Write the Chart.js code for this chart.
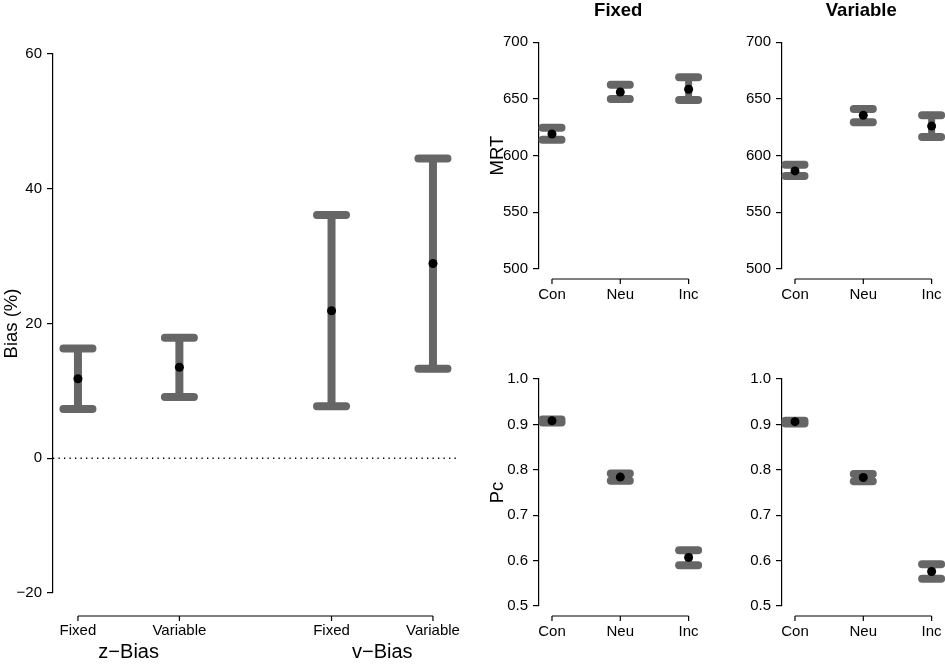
<!DOCTYPE html>
<html>
<head>
<meta charset="utf-8">
<title>Bias, MRT and Pc</title>
<script src="https://cdn.jsdelivr.net/npm/chart.js@4.4.1/dist/chart.umd.min.js"></script>
<style>
  html, body { margin: 0; padding: 0; background: #ffffff; }
  body { width: 945px; height: 664px; position: relative; overflow: hidden; }
  canvas { position: absolute; }
</style>
</head>
<body>
<canvas id="biasChart" width="470" height="664" style="left:0;top:0"></canvas>
<canvas id="mrtFixedChart" width="222" height="330" style="left:480px;top:0"></canvas>
<canvas id="mrtVariableChart" width="222" height="330" style="left:723px;top:0"></canvas>
<canvas id="pcFixedChart" width="222" height="334" style="left:480px;top:330px"></canvas>
<canvas id="pcVariableChart" width="222" height="334" style="left:723px;top:330px"></canvas>
<script>
// Colours and font
const BAR_COLOR = '#666666';
const INK = '#000000';
const FONT = "'Liberation Sans', Arial, Helvetica, sans-serif";

// Left panel: bias estimates (%)
const biasPositions = [1, 2, 3.5, 4.5];
const biasLabels = ['Fixed', 'Variable', 'Fixed', 'Variable'];
const biasGroups = ['z\u2212Bias', 'v\u2212Bias'];
const biasMean = [11.8, 13.5, 21.9, 28.9];
const biasLow = [7.3, 9.1, 7.7, 13.3];
const biasHigh = [16.3, 17.9, 36.1, 44.5];
const biasTicks = [-20, 0, 20, 40, 60];

// Right panels: conditions
const conditions = ['Con', 'Neu', 'Inc'];
const condPositions = [1, 2, 3];
const mrtTicks = [500, 550, 600, 650, 700];
const pcTicks = [0.5, 0.6, 0.7, 0.8, 0.9, 1.0];

// Mean RT
const mrtFixedMean = [619, 656, 658.5];
const mrtFixedLow = [614, 650, 649];
const mrtFixedHigh = [624.5, 662.5, 669];
const mrtVariableMean = [586.5, 635.5, 626];
const mrtVariableLow = [582, 629.5, 616.5];
const mrtVariableHigh = [592, 641, 635.5];

// Proportion correct
const pcFixedMean = [0.908, 0.784, 0.607];
const pcFixedLow = [0.904, 0.776, 0.590];
const pcFixedHigh = [0.911, 0.792, 0.623];
const pcVariableMean = [0.906, 0.783, 0.576];
const pcVariableLow = [0.902, 0.775, 0.560];
const pcVariableHigh = [0.908, 0.791, 0.592];

Chart.defaults.font.family = FONT;
Chart.defaults.color = INK;

// Draw stems and caps under the mean points
const errorBarPlugin = {
    id: 'errorBars',
    beforeDatasetsDraw(chart, args, opts) {
        const { ctx, scales: { x, y } } = chart;
        ctx.save();
        ctx.strokeStyle = opts.color;
        opts.positions.forEach((pos, i) => {
            const px = x.getPixelForValue(pos);
            const yLo = y.getPixelForValue(opts.low[i]);
            const yHi = y.getPixelForValue(opts.high[i]);
            ctx.lineCap = 'butt';
            ctx.lineWidth = opts.stemWidth;
            ctx.beginPath();
            ctx.moveTo(px, yLo);
            ctx.lineTo(px, yHi);
            ctx.stroke();
            ctx.lineCap = 'round';
            ctx.lineWidth = opts.capThickness;
            const half = (opts.capWidth - opts.capThickness) / 2;
            [yLo, yHi].forEach(py => {
                ctx.beginPath();
                ctx.moveTo(px - half, py);
                ctx.lineTo(px + half, py);
                ctx.stroke();
            });
        });
        ctx.restore();
    }
};

// R-style x axis: line only between first and last tick, set off below the plot
const rAxisPlugin = {
    id: 'rAxis',
    afterDraw(chart, args, opts) {
        const { ctx, chartArea, scales: { x } } = chart;
        const yLine = chartArea.bottom + opts.gap;
        const pix = opts.positions.map(p => x.getPixelForValue(p));
        ctx.save();
        ctx.strokeStyle = INK;
        ctx.lineWidth = 1.2;
        ctx.beginPath();
        ctx.moveTo(pix[0], yLine);
        ctx.lineTo(pix[pix.length - 1], yLine);
        pix.forEach(px => {
            ctx.moveTo(px, yLine);
            ctx.lineTo(px, yLine + opts.tick);
        });
        ctx.stroke();
        if (opts.groups && opts.groups.length) {
            ctx.fillStyle = INK;
            ctx.font = '20px ' + FONT;
            ctx.textAlign = 'center';
            ctx.textBaseline = 'middle';
            opts.groups.forEach((g, i) => {
                const cx = (pix[i * 2] + pix[i * 2 + 1]) / 2;
                ctx.fillText(g, cx, chartArea.bottom + opts.groupOffset);
            });
        }
        ctx.restore();
    }
};

function buildPanel(canvasId, p) {
    const datasets = [];
    if (p.zeroLine) {
        datasets.push({
            type: 'line',
            data: [{ x: p.xMin, y: 0 }, { x: p.xMax, y: 0 }],
            borderColor: INK,
            borderWidth: 1.3,
            borderDash: [1.3, 4.2],
            pointRadius: 0,
            order: 2
        });
    }
    datasets.push({
        type: 'scatter',
        data: p.positions.map((pos, i) => ({ x: pos, y: p.mean[i] })),
        pointRadius: p.pointRadius,
        backgroundColor: INK,
        borderWidth: 0,
        order: 1
    });

    return new Chart(document.getElementById(canvasId), {
        type: 'scatter',
        data: { datasets },
        options: {
            responsive: false,
            animation: false,
            events: [],
            layout: { padding: p.padding },
            plugins: {
                legend: { display: false },
                tooltip: { enabled: false },
                title: {
                    display: !!p.title,
                    text: p.title || '',
                    fullSize: false,
                    color: INK,
                    font: { size: 18.5, weight: 'bold' },
                    padding: { top: 0, bottom: p.titleGap || 0 }
                },
                errorBars: {
                    positions: p.positions,
                    low: p.low,
                    high: p.high,
                    color: BAR_COLOR,
                    stemWidth: p.stemWidth,
                    capWidth: p.capWidth,
                    capThickness: p.capThickness
                },
                rAxis: {
                    positions: p.positions,
                    gap: p.axisGap,
                    tick: 5,
                    groups: p.groups || [],
                    groupOffset: p.groupOffset || 0
                }
            },
            scales: {
                x: {
                    type: 'linear',
                    min: p.xMin,
                    max: p.xMax,
                    afterBuildTicks: s => { s.ticks = p.positions.map(v => ({ value: v })); },
                    afterFit: s => {
                        s.height = p.xHeight;
                        s.paddingLeft = 0;
                        s.paddingRight = 0;
                    },
                    // invisible tick marks only push the labels down
                    grid: {
                        display: true,
                        drawOnChartArea: false,
                        drawTicks: true,
                        tickLength: p.xLabelPad,
                        color: 'rgba(0,0,0,0)'
                    },
                    border: { display: false },
                    ticks: {
                        padding: 0,
                        autoSkip: false,
                        maxRotation: 0,
                        color: INK,
                        font: { size: 15 },
                        callback: (v, i) => p.labels[i]
                    }
                },
                y: {
                    type: 'linear',
                    min: p.yMin,
                    max: p.yMax,
                    afterBuildTicks: s => { s.ticks = p.yTicks.map(v => ({ value: v })); },
                    afterFit: s => { s.width = p.yWidth; },
                    grid: {
                        drawOnChartArea: false,
                        drawTicks: true,
                        tickLength: 6,
                        color: INK,
                        lineWidth: 1.2
                    },
                    border: { display: true, color: INK, width: 1.2 },
                    ticks: {
                        padding: 5,
                        color: INK,
                        font: { size: 15 },
                        callback: p.tickFormat
                    },
                    title: {
                        display: !!p.yTitle,
                        text: p.yTitle || '',
                        color: INK,
                        font: { size: 18.5 },
                        padding: { top: p.yTitlePad || 0, bottom: 0 }
                    }
                }
            }
        },
        plugins: [errorBarPlugin, rAxisPlugin]
    });
}

const minusFormat = v => (v < 0 ? '\u2212' + Math.abs(v) : String(v));
// shared settings of the four small panels
const smallPanel = {
    positions: condPositions, labels: conditions, xMin: 0.81, xMax: 3.13,
    yWidth: 59, xLabelPad: 17, axisGap: 10,
    stemWidth: 7, capWidth: 27, capThickness: 8, pointRadius: 4.5
};

buildPanel('biasChart', {
    positions: biasPositions, labels: biasLabels, groups: biasGroups,
    mean: biasMean, low: biasLow, high: biasHigh,
    xMin: 0.754, xMax: 4.737, yMin: -20, yMax: 60, yTicks: biasTicks,
    tickFormat: minusFormat, yTitle: 'Bias (%)', yTitlePad: 1,
    zeroLine: true,
    padding: { top: 54, right: 13, bottom: 0, left: 0 },
    yWidth: 53, xHeight: 71, xLabelPad: 29, axisGap: 23, groupOffset: 59.5,
    stemWidth: 8, capWidth: 37, capThickness: 8, pointRadius: 4.5
});

buildPanel('mrtFixedChart', Object.assign({}, smallPanel, {
    mean: mrtFixedMean, low: mrtFixedLow, high: mrtFixedHigh,
    yMin: 500, yMax: 700, yTicks: mrtTicks,
    tickFormat: v => String(v), yTitle: 'MRT', yTitlePad: 7,
    title: 'Fixed', titleGap: 20,
    padding: { top: 0, right: 0, bottom: 0, left: 0 }, xHeight: 61
}));

buildPanel('mrtVariableChart', Object.assign({}, smallPanel, {
    mean: mrtVariableMean, low: mrtVariableLow, high: mrtVariableHigh,
    yMin: 500, yMax: 700, yTicks: mrtTicks,
    tickFormat: v => String(v),
    title: 'Variable', titleGap: 20,
    padding: { top: 0, right: 0, bottom: 0, left: 0 }, xHeight: 61
}));

buildPanel('pcFixedChart', Object.assign({}, smallPanel, {
    mean: pcFixedMean, low: pcFixedLow, high: pcFixedHigh,
    yMin: 0.5, yMax: 1.0, yTicks: pcTicks,
    tickFormat: v => v.toFixed(1), yTitle: 'Pc', yTitlePad: 7,
    padding: { top: 49, right: 0, bottom: 0, left: 0 }, xHeight: 58
}));

buildPanel('pcVariableChart', Object.assign({}, smallPanel, {
    mean: pcVariableMean, low: pcVariableLow, high: pcVariableHigh,
    yMin: 0.5, yMax: 1.0, yTicks: pcTicks,
    tickFormat: v => v.toFixed(1),
    padding: { top: 49, right: 0, bottom: 0, left: 0 }, xHeight: 58
}));
</script>
</body>
</html>
